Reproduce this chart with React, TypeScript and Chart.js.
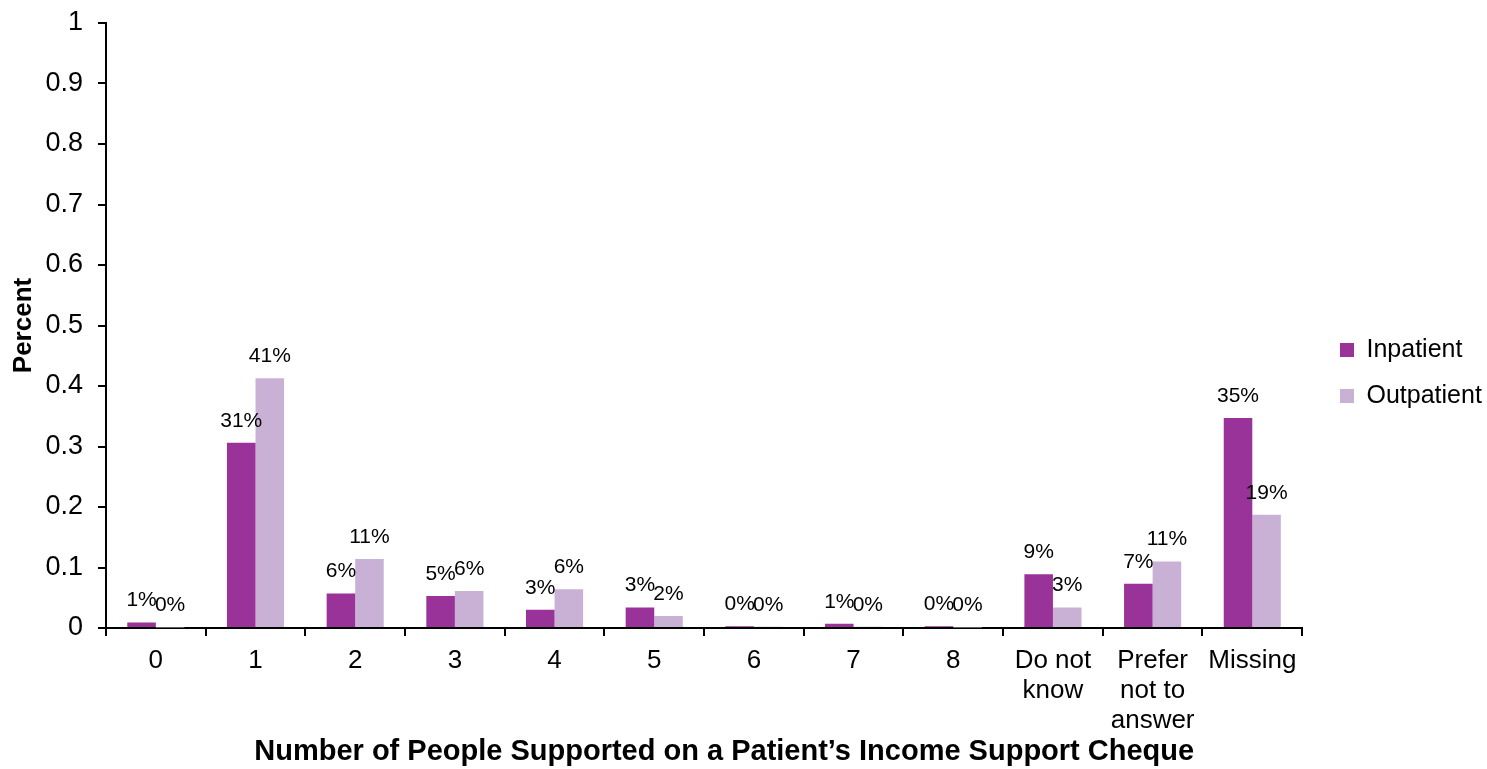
import React, { useEffect, useRef } from "react";
import { Chart, registerables } from "chart.js";

Chart.register(...registerables);

const categories: (string | string[])[] = [
  "0", "1", "2", "3", "4", "5", "6", "7", "8",
  ["Do not", "know"],
  ["Prefer", "not to", "answer"],
  "Missing",
];
const inpatient = [0.009, 0.306, 0.057, 0.053, 0.030, 0.034, 0.003, 0.007, 0.003, 0.089, 0.073, 0.347];
const outpatient = [0.001, 0.413, 0.114, 0.061, 0.064, 0.020, 0.002, 0.002, 0.001, 0.034, 0.110, 0.187];
const seriesNames = ["Inpatient", "Outpatient"];
const yTicks = [0, 0.1, 0.2, 0.3, 0.4, 0.5, 0.6, 0.7, 0.8, 0.9, 1];

const FONT = "'Liberation Sans', Arial, Helvetica, sans-serif";

const valueLabels = {
  id: "valueLabels",
  afterDatasetsDraw(chart: any) {
    const ctx = chart.ctx;
    ctx.save();
    ctx.font = `21px ${FONT}`;
    ctx.fillStyle = "#000";
    ctx.textAlign = "center";
    ctx.textBaseline = "middle";
    chart.data.datasets.forEach((ds: any, di: number) => {
      const meta = chart.getDatasetMeta(di);
      meta.data.forEach((bar: any, i: number) => {
        const v = ds.data[i];
        ctx.fillText(Math.round(v * 100) + "%", bar.x, bar.y - 22);
      });
    });
    ctx.restore();
  },
};

const legendPlace = {
  id: "legendPlace",
  afterUpdate(chart: any) {
    const lg = chart.legend;
    if (!lg || !lg.legendHitBoxes || !lg.legendHitBoxes.length) return;
    const hb = lg.legendHitBoxes[0];
    const dx = 1340 - hb.left;
    const dy = 350 - (hb.top + hb.height / 2);
    lg.left += dx; lg.right += dx;
    lg.top += dy; lg.bottom += dy;
    lg.adjustHitBoxes();
  },
};

export default function App() {
  const ref = useRef<HTMLCanvasElement | null>(null);
  useEffect(() => {
    if (!ref.current) return;
    Chart.defaults.font.family = FONT;
    Chart.defaults.color = "#000";
    const chart = new Chart(ref.current, {
      type: "bar",
      data: {
        labels: categories,
        datasets: [
          { label: seriesNames[0], data: inpatient, backgroundColor: "#993399", borderWidth: 0 },
          { label: seriesNames[1], data: outpatient, backgroundColor: "#C9B1D6", borderWidth: 0 },
        ],
      },
      options: {
        responsive: false,
        animation: false,
        layout: { padding: { left: 0, top: 23, right: 12, bottom: 0 } },
        datasets: { bar: { categoryPercentage: 0.573, barPercentage: 1 } } as any,
        plugins: {
          tooltip: { enabled: false },
          legend: {
            position: "right",
            align: "center",
            labels: {
              boxWidth: 14,
              boxHeight: 14,
              padding: 21,
              color: "#000",
              font: { size: 25, family: FONT },
            },
          },
        },
        scales: {
          x: {
            grid: {
              offset: true,
              drawOnChartArea: false,
              drawTicks: true,
              tickLength: 8,
              color: "#000",
              lineWidth: 2,
            },
            border: { display: true, color: "#000", width: 2 },
            ticks: {
              color: "#000",
              font: { size: 26, family: FONT, lineHeight: 1.154 },
              padding: 10,
              maxRotation: 0,
              autoSkip: false,
            },
            title: {
              display: true,
              text: "\u00A0\u00A0\u00A0\u00A0\u00A0Number of People Supported on a Patient\u2019s Income Support Cheque",
              color: "#000",
              font: { size: 29, weight: "bold", family: FONT },
              padding: { top: 0, bottom: 0 },
            },
            afterFit(axis: any) { axis.height = 141; },
          },
          y: {
            min: 0,
            max: 1,
            afterBuildTicks(axis: any) { axis.ticks = yTicks.map((v) => ({ value: v })); },
            grid: {
              drawOnChartArea: false,
              drawTicks: true,
              tickLength: 8,
              color: "#000",
              lineWidth: 2,
            },
            border: { display: true, color: "#000", width: 2 },
            ticks: {
              color: "#000",
              font: { size: 27, family: FONT },
              padding: 15,
              callback: (v: any) => String(Math.round(Number(v) * 10) / 10),
            },
            title: {
              display: true,
              text: "Percent",
              color: "#000",
              font: { size: 26, weight: "bold", family: FONT },
              padding: { top: 8, bottom: 0 },
            },
            afterFit(axis: any) {
              axis.width = 106;
              axis.paddingTop = 0;
              axis.paddingBottom = 0;
            },
          },
        },
      },
      plugins: [valueLabels, legendPlace],
    });
    return () => chart.destroy();
  }, []);
  return (
    <div style={{ position: "absolute", left: 0, top: 0, width: 1487, height: 769, background: "#fff" }}>
      <canvas ref={ref} width={1487} height={769} style={{ display: "block" }} />
    </div>
  );
}
